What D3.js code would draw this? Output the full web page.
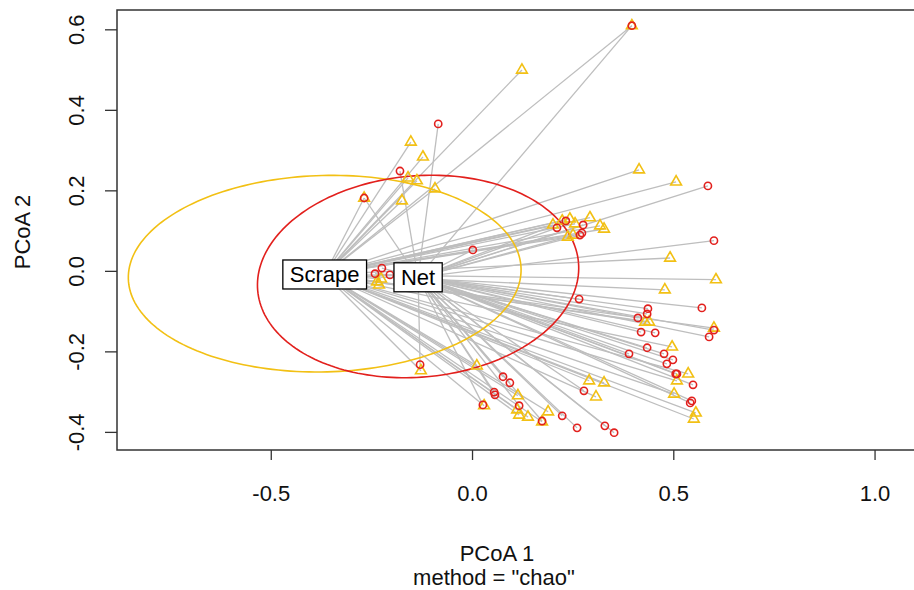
<!DOCTYPE html>
<html><head><meta charset="utf-8">
<script src="https://cdn.jsdelivr.net/npm/d3@7"></script>
<style>body{margin:0;background:#fff;} text{font-family:"Liberation Sans",Arial,sans-serif;}</style>
</head><body><svg id="c" width="914" height="590"></svg>
<script>
// Group names
const groups = ["Net", "Scrape"];
// Group centroids [x, y]
const centroidNet = [-0.134, -0.016];
const centroidScrape = [-0.366, -0.009];
// Dispersion ellipses: [cx, cy, semiA, semiB, angleDeg]
const ellipseNet = [-0.134, -0.014, 0.400, 0.250, 5];
const ellipseScrape = [-0.366, -0.007, 0.488, 0.244, 1.5];
// Net site scores (circles)
const netX = [0.397,-0.084,-0.179,-0.268,0.586,0.211,0.233,0.276,0.268,0.273,0.002,0.601,0.266,0.571,0.437,0.435,0.412,0.420,0.455,0.601,0.589,0.435,0.390,0.477,0.499,0.484,0.506,0.509,0.549,0.542,0.546,-0.129,0.077,0.094,0.055,0.057,0.027,0.117,0.174,0.224,0.261,0.330,0.353,0.278,-0.224,-0.241,-0.204];
const netY = [0.609,0.365,0.248,0.181,0.211,0.107,0.124,0.114,0.089,0.094,0.052,0.075,-0.070,-0.092,-0.094,-0.107,-0.117,-0.152,-0.154,-0.147,-0.164,-0.191,-0.206,-0.206,-0.221,-0.231,-0.256,-0.256,-0.283,-0.328,-0.323,-0.233,-0.263,-0.278,-0.301,-0.308,-0.333,-0.335,-0.373,-0.360,-0.390,-0.385,-0.402,-0.298,0.007,-0.007,-0.010];
// Scrape site scores (triangles)
const scrapeX = [0.397,0.124,-0.152,-0.122,-0.159,-0.137,-0.092,-0.174,-0.268,0.415,0.507,0.201,0.224,0.243,0.256,0.293,0.318,0.328,0.238,0.251,0.492,0.606,0.479,0.430,0.440,0.601,0.497,0.537,0.509,0.502,0.556,0.551,-0.127,0.012,0.114,0.112,0.117,0.139,0.189,0.174,0.030,0.291,0.328,0.308,-0.236,-0.231,-0.226];
const scrapeY = [0.609,0.499,0.320,0.283,0.231,0.224,0.204,0.174,0.181,0.251,0.221,0.114,0.124,0.129,0.117,0.132,0.112,0.104,0.084,0.089,0.032,-0.022,-0.047,-0.127,-0.127,-0.142,-0.189,-0.256,-0.273,-0.306,-0.353,-0.368,-0.248,-0.236,-0.310,-0.345,-0.358,-0.363,-0.350,-0.375,-0.335,-0.273,-0.278,-0.313,-0.027,-0.035,-0.020];
// Axis ticks
const xTicks = [-0.5, 0.0, 0.5, 1.0];
const yTicks = [-0.4, -0.2, 0.0, 0.2, 0.4, 0.6];
const xLabel = "PCoA 1", yLabel = "PCoA 2", subLabel = 'method = "chao"';

const red = "#E2201D", yellow = "#F2C014", grey = "#BEBEBE";
const FS = 22;
const svg = d3.select("#c");
const L = 117, R = 914, T = 10, B = 450;
const x = d3.scaleLinear().domain([-0.882, 1.098]).range([L, R]);
const y = d3.scaleLinear().domain([-0.445, 0.648]).range([B, T]);

const net = netX.map((v,i)=>({x:v,y:netY[i],g:"Net"}));
const scr = scrapeX.map((v,i)=>({x:v,y:scrapeY[i],g:"Scrape"}));
const cen = {Net: centroidNet, Scrape: centroidScrape};

const plot = svg.append("g");
plot.selectAll("line.seg").data(net.concat(scr)).join("line")
  .attr("x1",d=>x(d.x)).attr("y1",d=>y(d.y))
  .attr("x2",d=>x(cen[d.g][0])).attr("y2",d=>y(cen[d.g][1]))
  .attr("stroke",grey).attr("stroke-width",1.3);

function ell(p){
  const [cx,cy,a,b,ang]=p, ph=ang*Math.PI/180;
  const pts=d3.range(0,201).map(i=>{const t=i/200*2*Math.PI;
    return [x(cx+a*Math.cos(t)*Math.cos(ph)-b*Math.sin(t)*Math.sin(ph)), y(cy+a*Math.cos(t)*Math.sin(ph)+b*Math.sin(t)*Math.cos(ph))];});
  return d3.line()(pts);
}
plot.append("path").attr("d",ell(ellipseScrape)).attr("fill","none").attr("stroke",yellow).attr("stroke-width",1.6);
plot.append("path").attr("d",ell(ellipseNet)).attr("fill","none").attr("stroke",red).attr("stroke-width",1.6);

const tri = d3.symbol().type(d3.symbolTriangle).size(50);
plot.selectAll("path.tri").data(scr).join("path").attr("class","tri")
  .attr("d",tri).attr("transform",d=>`translate(${x(d.x)},${y(d.y)})`)
  .attr("fill","none").attr("stroke",yellow).attr("stroke-width",1.6);
plot.selectAll("circle.pt").data(net).join("circle").attr("class","pt")
  .attr("cx",d=>x(d.x)).attr("cy",d=>y(d.y)).attr("r",3.6)
  .attr("fill","none").attr("stroke",red).attr("stroke-width",1.6);

[["Scrape",centroidScrape],["Net",centroidNet]].forEach(([lab,c])=>{
  const g=svg.append("g").attr("transform",`translate(${x(c[0])},${y(c[1])})`);
  const t=g.append("text").text(lab).attr("text-anchor","middle").attr("dy","0.36em").attr("font-size",22).attr("fill","#000");
  const bb=t.node().getBBox();
  g.insert("rect","text").attr("x",bb.x-7).attr("y",-14.5).attr("width",bb.width+14).attr("height",29)
   .attr("fill","#fff").attr("stroke","#000").attr("stroke-width",1.3);
});

svg.append("rect").attr("x",L).attr("y",T).attr("width",R-L+5).attr("height",B-T)
  .attr("fill","none").attr("stroke","#333").attr("stroke-width",1.5);

const fmt = v => d3.format(".1f")(v).replace("\u2212","-");
const xa = svg.append("g").attr("transform",`translate(0,${B})`)
  .call(d3.axisBottom(x).tickValues(xTicks).tickSize(10).tickPadding(25).tickFormat(fmt));
xa.select(".domain").remove();
xa.selectAll("line").attr("stroke","#333").attr("stroke-width",1.3);
xa.selectAll("text").attr("font-size",FS).attr("fill","#111").attr("font-family","Liberation Sans");
const ya = svg.append("g").attr("transform",`translate(${L},0)`)
  .call(d3.axisLeft(y).tickValues(yTicks).tickSize(12).tickFormat(fmt));
ya.select(".domain").remove();
ya.selectAll("line").attr("stroke","#333").attr("stroke-width",1.3);
ya.selectAll("text").attr("font-size",FS).attr("fill","#111").attr("font-family","Liberation Sans")
  .attr("text-anchor","middle").attr("x",0).attr("y",0)
  .attr("transform","translate(-41,0) rotate(-90)")
  .attr("dy","0.36em");

svg.append("text").attr("x",497).attr("y",561).attr("text-anchor","middle").attr("font-size",FS).attr("fill","#111").text(xLabel);
svg.append("text").attr("x",494).attr("y",585).attr("text-anchor","middle").attr("font-size",FS).attr("fill","#111").text(subLabel);
svg.append("text").attr("transform","translate(30,232) rotate(-90)").attr("text-anchor","middle").attr("font-size",FS).attr("fill","#111").text(yLabel);
</script></body></html>
